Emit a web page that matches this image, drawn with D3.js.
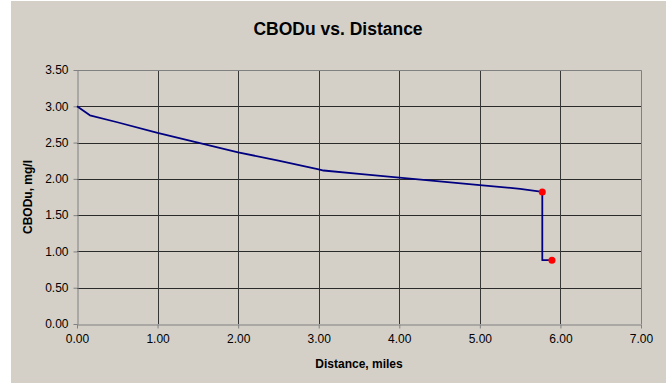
<!DOCTYPE html>
<html>
<head>
<meta charset="utf-8">
<script src="https://cdn.jsdelivr.net/npm/d3@7"></script>
<style>
  html, body { margin: 0; padding: 0; background: #ffffff; }
  svg { display: block; }
  text { font-family: "Liberation Sans", Arial, sans-serif; fill: #000; }
</style>
</head>
<body>
<svg id="chart" width="666" height="383"></svg>
<script>
// CBODu profile along the reach (distance in miles, concentration in mg/l)
const distance = [0, 0.16, 0.5, 1.0, 1.5, 2.0, 2.5, 3.0, 3.06, 3.5, 4.0, 4.5, 5.0, 5.5, 5.775, 5.775, 5.895];
const cbodu    = [3.00, 2.876, 2.78, 2.632, 2.50, 2.366, 2.25, 2.13, 2.115, 2.068, 2.016, 1.965, 1.915, 1.862, 1.82, 0.88, 0.88];

// Observed points
const obsDistance = [5.775, 5.895];
const obsCbodu    = [1.82, 0.88];

const xTicks = [0, 1, 2, 3, 4, 5, 6, 7];
const yTicks = [0, 0.5, 1.0, 1.5, 2.0, 2.5, 3.0, 3.5];

const titleText = "CBODu vs. Distance";
const xTitle = "Distance, miles";
const yTitle = "CBODu, mg/l";

const W = 666, H = 383;
const plot = { left: 77, right: 641, top: 70, bottom: 324 };
const bg = "#D4D0C8";

const svg = d3.select("#chart");

// chart area background
svg.append("rect")
  .attr("x", 11).attr("y", 1)
  .attr("width", W - 11).attr("height", H - 1)
  .attr("fill", bg);

const x = d3.scaleLinear().domain([0, 7]).range([plot.left, plot.right]);
const y = d3.scaleLinear().domain([0, 3.5]).range([plot.bottom, plot.top]);

// gridlines
const grid = svg.append("g");
grid.selectAll("line.h")
  .data(yTicks.filter(v => v > 0 && v < 3.5))
  .join("line")
  .attr("x1", plot.left).attr("x2", plot.right)
  .attr("y1", d => Math.round(y(d)) + 0.5).attr("y2", d => Math.round(y(d)) + 0.5)
  .attr("stroke", "#2a2a2a").attr("stroke-width", 1);
grid.selectAll("line.v")
  .data(xTicks.filter(v => v > 0 && v < 7))
  .join("line")
  .attr("y1", plot.top).attr("y2", plot.bottom)
  .attr("x1", d => Math.round(x(d)) + 0.5).attr("x2", d => Math.round(x(d)) + 0.5)
  .attr("stroke", "#363636").attr("stroke-width", 1);

// plot border (top / right)
svg.append("path")
  .attr("d", `M${plot.left},${plot.top + 0.5}H${plot.right + 0.5}V${plot.bottom}`)
  .attr("fill", "none").attr("stroke", "#808080").attr("stroke-width", 1);

// axes
const fmt = d3.format(".2f");
const xAxis = svg.append("g")
  .attr("transform", `translate(0,${plot.bottom + 0.5})`)
  .call(d3.axisBottom(x).tickValues(xTicks).tickFormat(fmt).tickSizeInner(4).tickSizeOuter(0).tickPadding(6));
const yAxis = svg.append("g")
  .attr("transform", `translate(${plot.left + 0.5},0)`)
  .call(d3.axisLeft(y).tickValues(yTicks).tickFormat(fmt).tickSizeInner(4).tickSizeOuter(0).tickPadding(5));

[xAxis, yAxis].forEach(g => {
  g.select(".domain").attr("stroke", "#808080");
  g.selectAll(".tick line").attr("stroke", "#808080");
  g.selectAll(".tick text")
    .attr("font-family", "'Liberation Sans', Arial, sans-serif")
    .attr("font-size", 12).attr("fill", "#000");
});

// CBODu line
const line = d3.line()
  .x((d, i) => x(distance[i]))
  .y((d, i) => y(cbodu[i]));
svg.append("path")
  .datum(cbodu)
  .attr("d", line)
  .attr("fill", "none")
  .attr("stroke", "#000080")
  .attr("stroke-width", 1.8)
  .attr("stroke-linejoin", "round");

// observed points
svg.append("g").selectAll("circle")
  .data(obsDistance)
  .join("circle")
  .attr("cx", (d, i) => x(obsDistance[i]))
  .attr("cy", (d, i) => y(obsCbodu[i]))
  .attr("r", 3.5)
  .attr("fill", "#ff0000");

// titles
svg.append("text")
  .attr("x", 338).attr("y", 35)
  .attr("text-anchor", "middle")
  .attr("font-size", 17.5).attr("font-weight", "bold")
  .text(titleText);

svg.append("text")
  .attr("x", (plot.left + plot.right) / 2).attr("y", 368)
  .attr("text-anchor", "middle")
  .attr("font-size", 12).attr("font-weight", "bold")
  .text(xTitle);

svg.append("text")
  .attr("transform", `translate(32,${(plot.top + plot.bottom) / 2}) rotate(-90)`)
  .attr("text-anchor", "middle")
  .attr("font-size", 12).attr("font-weight", "bold")
  .text(yTitle);
</script>
</body>
</html>
